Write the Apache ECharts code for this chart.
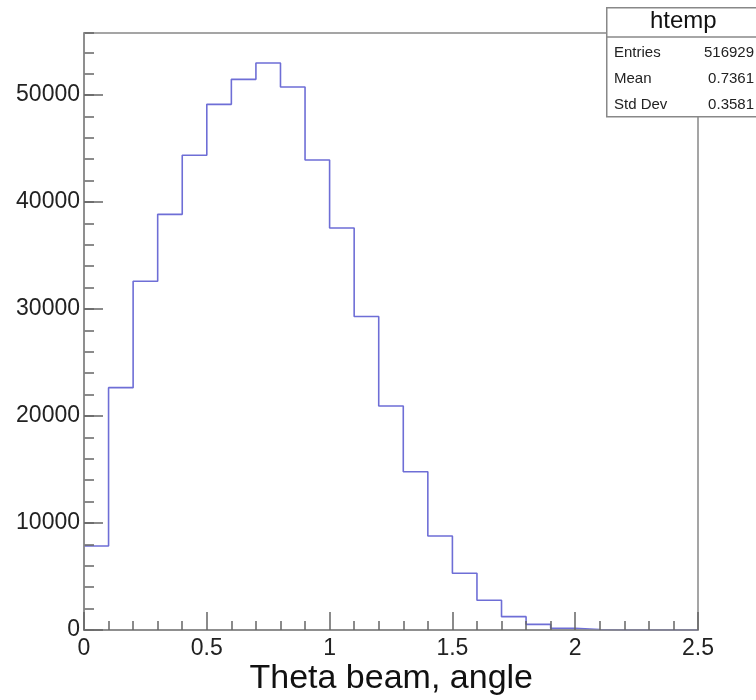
<!DOCTYPE html>
<html>
<head>
<meta charset="utf-8">
<script src="https://cdn.jsdelivr.net/npm/echarts@6/dist/echarts.min.js"></script>
<style>
html,body{margin:0;padding:0;background:#fff;}
#chart{width:756px;height:700px;}
</style>
</head>
<body>
<div id="chart"></div>
<script>
// Bin edges (Theta beam, angle) and bin contents
const binEdges = [0, 0.1, 0.2, 0.3, 0.4, 0.5, 0.6, 0.7, 0.8, 0.9, 1.0, 1.1, 1.2, 1.3, 1.4, 1.5, 1.6, 1.7, 1.8, 1.9, 2.0, 2.1, 2.2, 2.3, 2.4, 2.5];
const binCounts = [7850, 22650, 32600, 38850, 44380, 49130, 51470, 52990, 50750, 43930, 37570, 29300, 20930, 14790, 8780, 5300, 2780, 1250, 530, 160, 50, 0, 0, 0, 0];
const statsTitle = 'htemp';
const statsLabels = ['Entries', 'Mean', 'Std Dev'];
const statsValues = ['516929', '0.7361', '0.3581'];
const xTitle = 'Theta beam, angle';

const stepData = binCounts.map((v, i) => [binEdges[i], v]);
stepData.push([binEdges[binEdges.length - 1], binCounts[binCounts.length - 1]]);

const chart = echarts.init(document.getElementById('chart'), null, {renderer: 'canvas'});
const FONT = '"Liberation Sans", Arial, Helvetica, sans-serif';
const statRows = [];
statsLabels.forEach((lab, i) => {
  statRows.push({type: 'text', left: 614, top: 45 + i * 26, z: 101,
    style: {text: lab, font: '15px ' + FONT, fill: '#222'}});
  statRows.push({type: 'text', right: 2, top: 45 + i * 26, z: 101,
    style: {text: statsValues[i], font: '15px ' + FONT, fill: '#222', textAlign: 'right'}});
});

chart.setOption({
  animation: false,
  backgroundColor: '#fff',
  grid: {left: 84, right: 58, top: 33, bottom: 70, show: true, borderColor: '#888', borderWidth: 1.5, backgroundColor: 'transparent'},
  xAxis: {
    type: 'value', min: 0, max: 2.5, interval: 0.5, z: 5,
    axisLine: {lineStyle: {color: '#888', width: 1.5}},
    axisTick: {inside: true, length: 18, lineStyle: {color: '#666', width: 1.5}},
    minorTick: {show: true, splitNumber: 5, length: 9, lineStyle: {color: '#666', width: 1.5}},
    axisLabel: {fontFamily: FONT, fontSize: 23, color: '#222', margin: 7,
      formatter: v => String(v)},
    splitLine: {show: false},
    name: xTitle, nameLocation: 'end', nameGap: -165,
    nameTextStyle: {fontFamily: FONT, fontSize: 34, color: '#111', align: 'right', verticalAlign: 'top', padding: [32, 0, 0, 0]}
  },
  yAxis: [{
    type: 'value', min: 0, max: 55800, interval: 10000, z: 5,
    axisLine: {show: true, lineStyle: {color: '#888', width: 1.5}},
    axisTick: {show: true, inside: true, length: 19, lineStyle: {color: '#666', width: 1.5}},
    axisLabel: {fontFamily: FONT, fontSize: 23, color: '#222', margin: 4, showMaxLabel: false,
      formatter: v => String(v)},
    splitLine: {show: false}
  }, {
    type: 'value', min: 0, max: 55800, interval: 2000, position: 'left', z: 4,
    axisLine: {show: false},
    axisTick: {show: true, inside: true, length: 10, lineStyle: {color: '#666', width: 1.5}},
    axisLabel: {show: false},
    splitLine: {show: false}
  }],
  series: [{
    type: 'line', step: 'end', data: stepData, symbol: 'none', z: 2,
    lineStyle: {color: '#6e6ed6', width: 1.6}
  }],
  graphic: [
    {type: 'rect', left: 606, top: 7, z: 100,
      shape: {width: 160, height: 109},
      style: {fill: '#fff', stroke: '#888', lineWidth: 1.5}},
    {type: 'line', z: 101, shape: {x1: 606, y1: 37, x2: 756, y2: 37},
      style: {stroke: '#888', lineWidth: 1.5}},
    {type: 'text', left: 650, top: 9, z: 101,
      style: {text: statsTitle, font: '24px ' + FONT, fill: '#111'}},
    ...statRows
  ]
});
</script>
</body>
</html>
